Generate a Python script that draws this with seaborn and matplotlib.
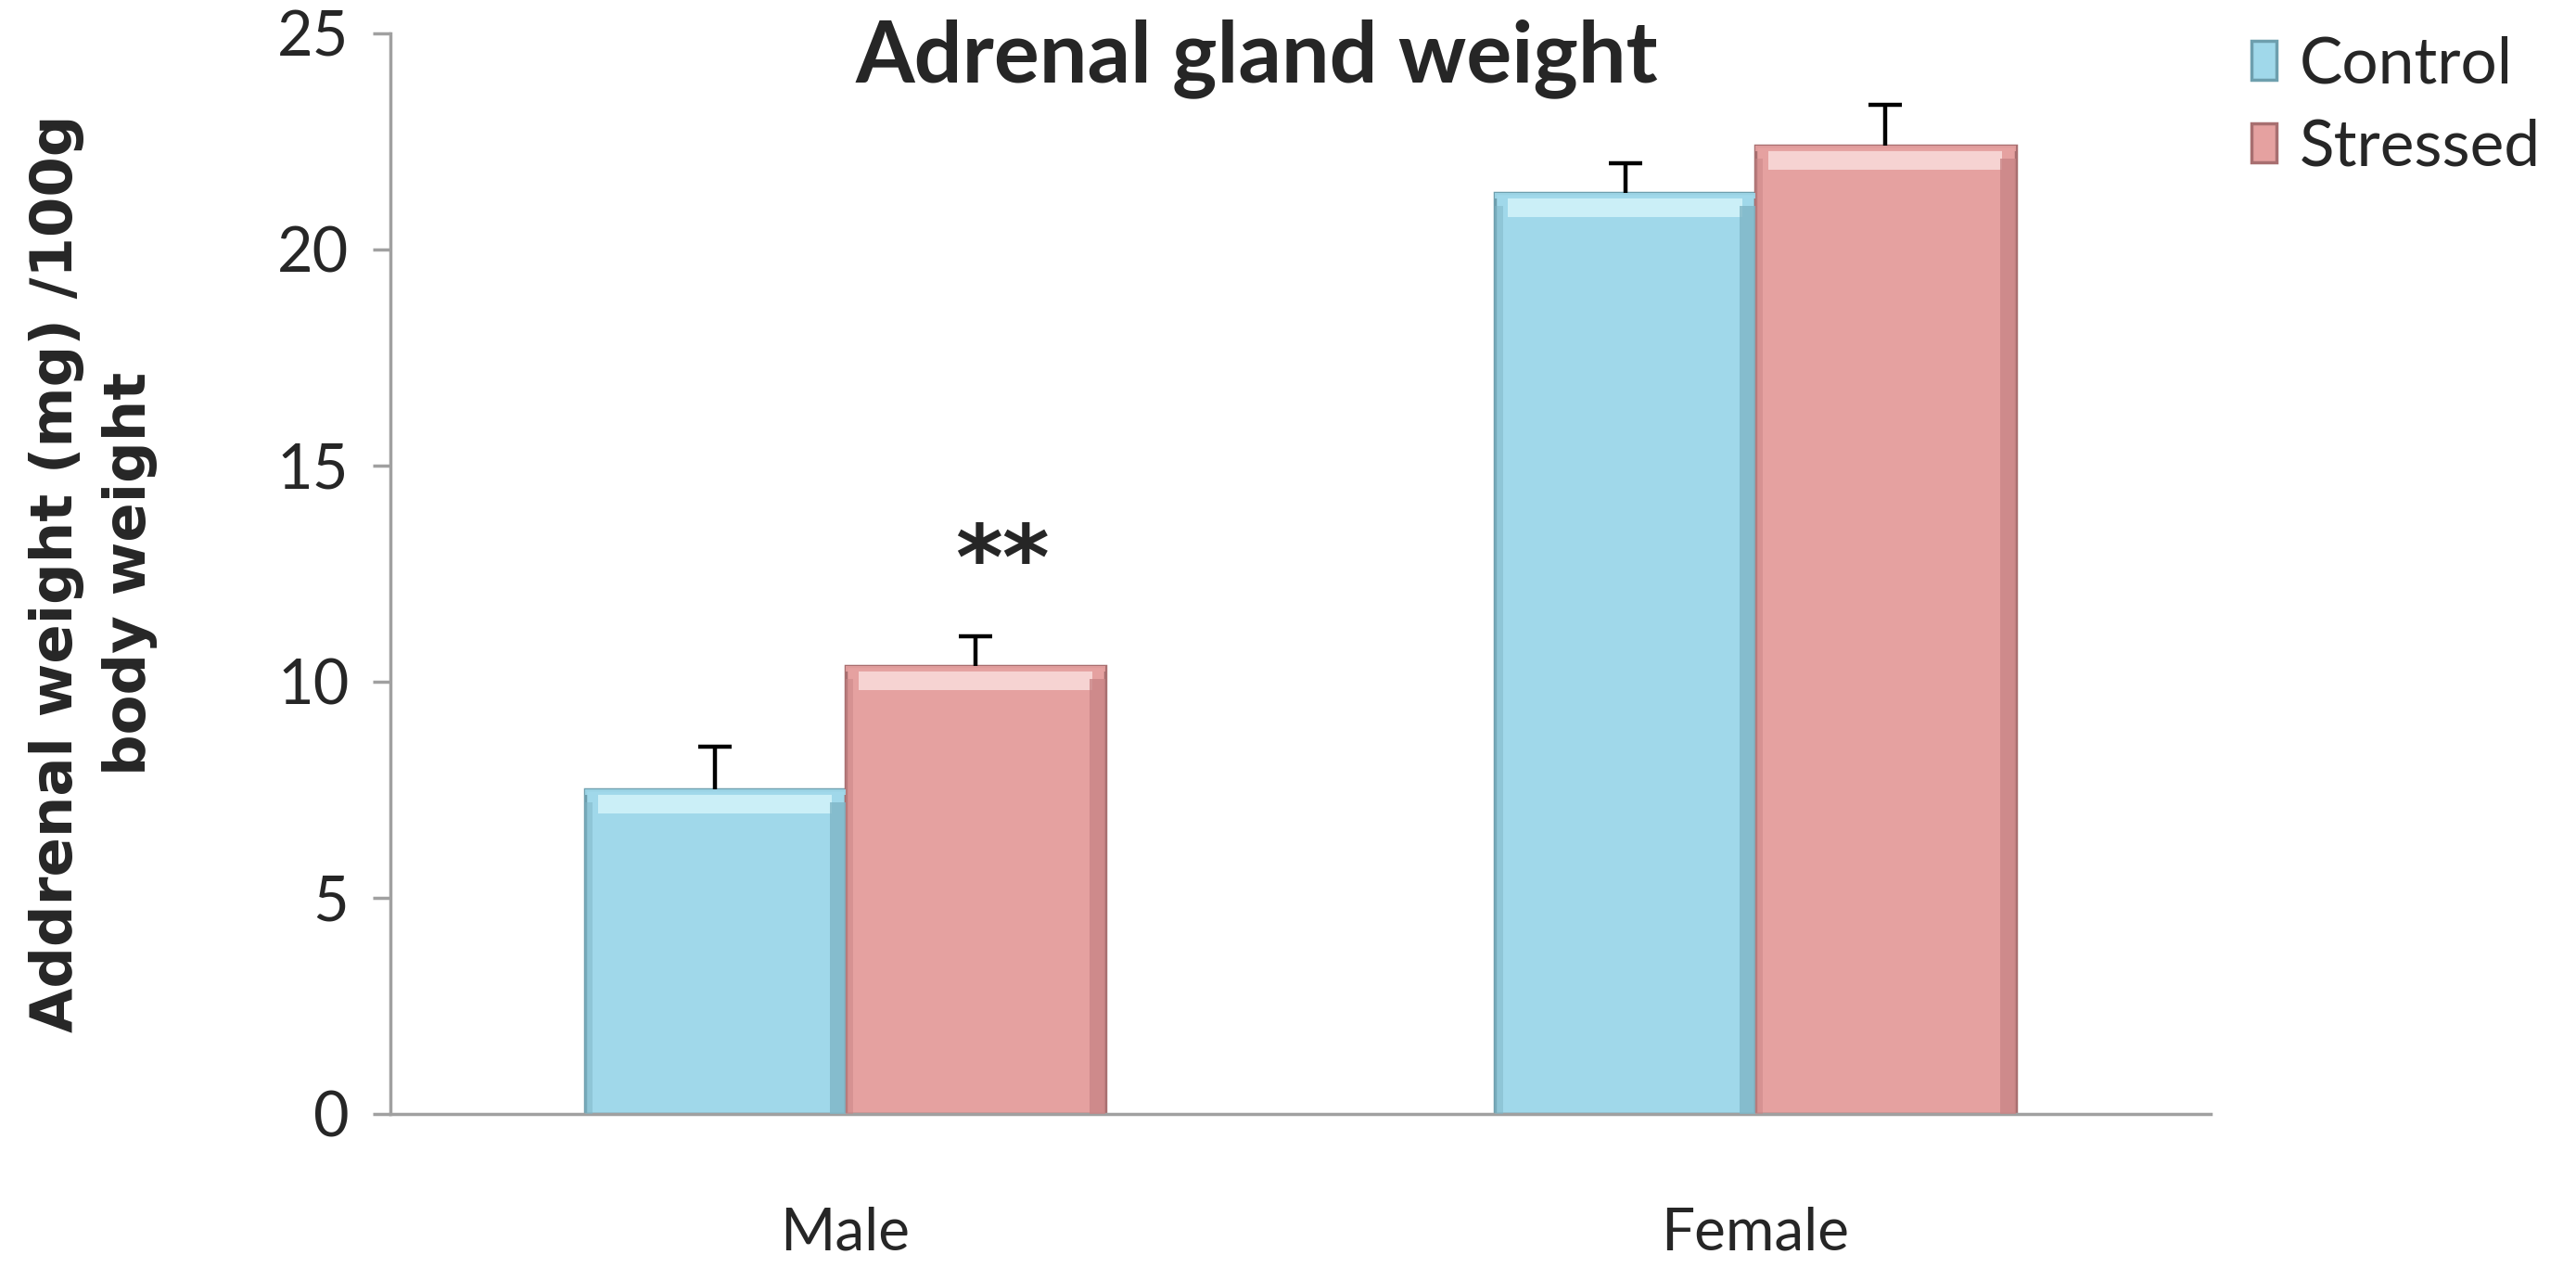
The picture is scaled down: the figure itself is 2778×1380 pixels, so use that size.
import matplotlib
matplotlib.use("Agg")
import matplotlib.pyplot as plt
from matplotlib.patches import Rectangle
import seaborn as sns
import pandas as pd

categories = ["Male", "Female"]
groups = ["Control", "Stressed"]
control_vals = [7.5, 21.3]
stressed_vals = [10.35, 22.4]
control_err = [1.0, 0.7]
stressed_err = [0.7, 0.95]
yticks = [0, 5, 10, 15, 20, 25]

sns.set_style("white")
plt.rcParams["font.family"] = ["Lato", "DejaVu Sans"]

df = pd.DataFrame({
    "sex": categories * 2,
    "group": [groups[0]] * 2 + [groups[1]] * 2,
    "value": control_vals + stressed_vals,
})
errs = {groups[0]: control_err, groups[1]: stressed_err}

fill = {"Control": "#a0d8ea", "Stressed": "#e5a1a0"}
edge = {"Control": "#6e9fae", "Stressed": "#a86f70"}
light = {"Control": "#d6f6fb", "Stressed": "#fbe0df"}
dark = {"Control": "#7fb6c6", "Stressed": "#c98586"}

fig = plt.figure(figsize=(27.78, 13.80), dpi=100)
ax = fig.add_axes([0.1515, 0.130, 0.7065, 0.844])

sns.barplot(data=df, x="sex", y="value", hue="group", order=categories,
            hue_order=groups, palette=fill, errorbar=None, width=0.572,
            saturation=1, ax=ax, legend=False)

for cont, g in zip(ax.containers, groups):
    for bar, e in zip(cont, errs[g]):
        bar.set_edgecolor(edge[g])
        bar.set_linewidth(2.5)
        x0, w, h = bar.get_x(), bar.get_width(), bar.get_height()
        # bevel: lighter top band, darker side strips
        ax.add_patch(Rectangle((x0 + w * 0.05, h - 0.55), w * 0.9, 0.45,
                               facecolor=light[g], edgecolor="none", alpha=0.8, zorder=3))
        ax.add_patch(Rectangle((x0, h - 0.12), w, 0.12,
                               facecolor=fill[g], edgecolor="none", alpha=0.9, zorder=3))
        ax.add_patch(Rectangle((x0 + w * 0.94, 0), w * 0.06, h - 0.3,
                               facecolor=dark[g], edgecolor="none", alpha=0.8, zorder=3))
        ax.add_patch(Rectangle((x0, 0), w * 0.03, h - 0.3,
                               facecolor=dark[g], edgecolor="none", alpha=0.5, zorder=3))
        eb = ax.errorbar(x0 + w / 2, h, yerr=[[0], [e]], fmt="none", ecolor="black",
                         elinewidth=3.2, capsize=13, capthick=3.2, zorder=4)
        eb[1][0].set_visible(False)

# significance marker above the stressed male bar
mbar = ax.containers[1][0]
ax.text(mbar.get_x() + mbar.get_width() / 2 + 0.03, 12.7, "**", ha="center",
        va="center", fontsize=70, fontweight="bold", family=["DejaVu Sans"])

ax.set_ylim(0, 25)
ax.set_xlim(-0.5, 1.5)
ax.set_yticks(yticks)
ax.set_yticklabels([str(t) for t in yticks], fontsize=48)
ax.set_xticks([0, 1])
ax.set_xticklabels(categories, fontsize=46)
ax.set_xticks([-0.5, 0.5, 1.5], minor=True)
ax.tick_params(axis="x", which="major", length=0, pad=72)
ax.tick_params(axis="x", which="minor", length=14, width=2.5, color="#a0a0a0", direction="out")
ax.tick_params(axis="y", which="major", length=14, width=2.5, color="#a0a0a0",
               direction="out", pad=18)
ax.tick_params(axis="both", bottom=True, left=True)
ax.set_xlabel("")
ax.set_ylabel("Addrenal weight (mg) /100g\nbody weight", fontsize=45,
              fontweight="bold", family=["DejaVu Sans"], linespacing=1.4)
ax.yaxis.set_label_coords(-0.128, 0.5)
for s in ["top", "right"]:
    ax.spines[s].set_visible(False)
for s in ["left", "bottom"]:
    ax.spines[s].set_color("#a0a0a0")
    ax.spines[s].set_linewidth(2.5)

fig.text(0.488, 0.985, "Adrenal gland weight", ha="center", va="top",
         fontsize=66, fontweight="bold")

handles = [Rectangle((0, 0), 1, 1, facecolor=fill[g], edgecolor=edge[g], linewidth=2.5)
           for g in groups]
fig.legend(handles, groups, loc="upper right", bbox_to_anchor=(1.0, 1.0),
           frameon=False, fontsize=50, handlelength=0.4, handleheight=0.55,
           handletextpad=0.35, labelspacing=0.38, borderaxespad=0.15)

fig.savefig("out.png", dpi=100, facecolor="white")
